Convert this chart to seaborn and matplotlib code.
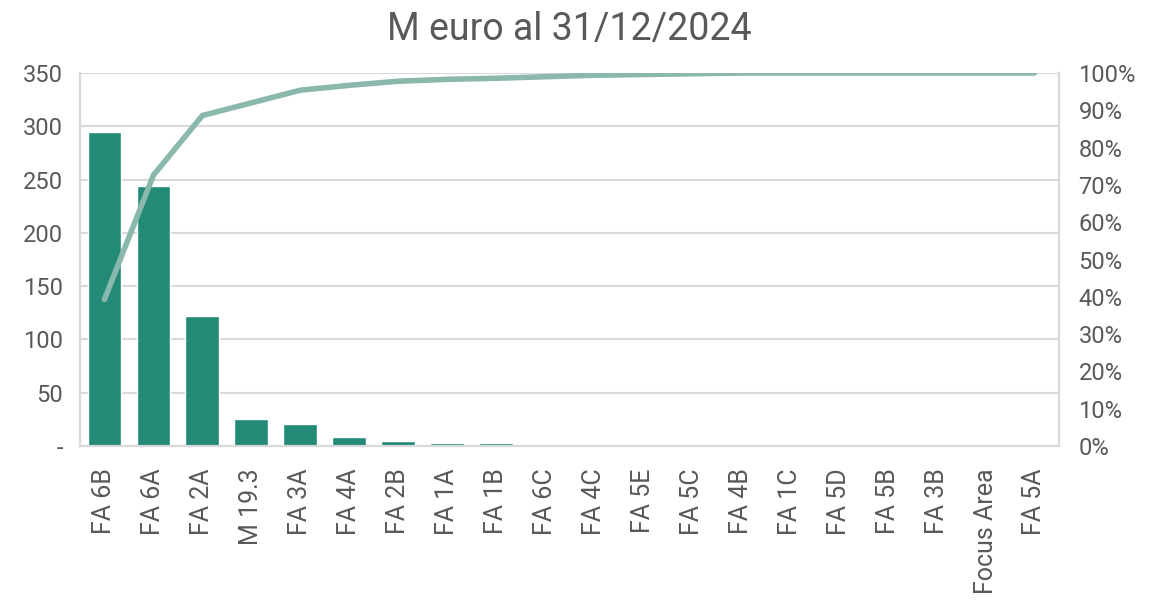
import numpy as np
import pandas as pd
import matplotlib
matplotlib.use('Agg')
import matplotlib.pyplot as plt
from matplotlib.ticker import PercentFormatter, FuncFormatter, MultipleLocator
import seaborn as sns

categories = ['FA 6B', 'FA 6A', 'FA 2A', 'M 19.3', 'FA 3A', 'FA 4A', 'FA 2B', 'FA 1A', 'FA 1B', 'FA 6C',
              'FA 4C', 'FA 5E', 'FA 5C', 'FA 4B', 'FA 1C', 'FA 5D', 'FA 5B', 'FA 3B', 'Focus Area', 'FA 5A']
values = [295, 244, 122, 25, 21, 8, 4.5, 2.5, 2.5, 0.3,
          0.2, 0.1, 0.1, 0.1, 0, 0, 0, 0, 0, 0]
cum_pct = [0.393, 0.726, 0.886, 0.920, 0.954, 0.967, 0.978, 0.983, 0.986, 0.990,
           0.994, 0.996, 0.998, 1.0, 1.0, 1.0, 1.0, 1.0, 1.0, 1.0]

bar_color = '#248A78'
line_color = '#8AB8AC'
text_color = '#595959'
grid_color = '#D9D9D9'

sns.set_style('white')
plt.rcParams['font.family'] = ['Roboto', 'DejaVu Sans']

df = pd.DataFrame({'cat': categories, 'val': values, 'cum': cum_pct})

fig = plt.figure(figsize=(11.66, 6.03), dpi=100)
ax = fig.add_axes([0.0686, 0.2604, 0.8396, 0.6185])

sns.barplot(data=df, x='cat', y='val', color=bar_color, width=0.69, saturation=1, ax=ax, zorder=2)
ax.set_xlim(-0.5, len(categories) - 0.5)
ax.set_ylim(0, 350)
ax.yaxis.set_major_locator(MultipleLocator(50))
ax.yaxis.set_major_formatter(FuncFormatter(lambda v, p: '-' if v == 0 else f'{v:.0f}'))
ax.grid(axis='y', color=grid_color, linewidth=1.5, zorder=0)
ax.set_axisbelow(True)
ax.set_xlabel('')
ax.set_ylabel('')
ax.tick_params(axis='x', labelrotation=90, length=0, pad=16, labelsize=18, labelcolor=text_color)
ax.tick_params(axis='y', length=0, pad=12, labelsize=17, labelcolor=text_color)

ax2 = ax.twinx()
sns.lineplot(data=df, x='cat', y='cum', color=line_color, linewidth=4, sort=False, ax=ax2,
             solid_capstyle='round', zorder=3)
ax2.set_ylim(0, 1)
ax2.yaxis.set_major_locator(MultipleLocator(0.1))
ax2.yaxis.set_major_formatter(PercentFormatter(1.0, decimals=0))
ax2.set_ylabel('')
ax2.tick_params(axis='y', length=0, pad=14, labelsize=17, labelcolor=text_color)

for a in (ax, ax2):
    for side in ('left', 'right', 'bottom'):
        a.spines[side].set_color(grid_color)
        a.spines[side].set_linewidth(1.5)
    a.spines['top'].set_visible(False)

ax.set_title('M euro al 31/12/2024', fontsize=27, color=text_color, pad=24)

fig.savefig('out.png', dpi=100)
